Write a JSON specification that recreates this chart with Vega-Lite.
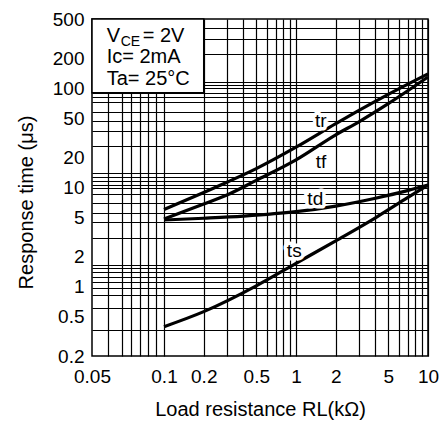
{
  "$schema": "https://vega.github.io/schema/vega-lite/v6.json",
  "width": 336,
  "height": 337,
  "autosize": {"type": "none"},
  "padding": {"left": 92, "top": 19, "right": 17, "bottom": 69},
  "background": "white",
  "config": {
    "view": {"stroke": "black", "strokeWidth": 1.5},
    "font": "Liberation Sans",
    "text": {"font": "Liberation Sans", "color": "black"},
    "axis": {
      "labelFont": "Liberation Sans",
      "titleFont": "Liberation Sans",
      "labelColor": "black",
      "titleColor": "black",
      "titleFontWeight": "normal",
      "ticks": false,
      "domain": false,
      "gridColor": "black",
      "gridOpacity": 1,
      "gridWidth": 1.2,
      "labelOverlap": false,
      "labelFlush": false
    }
  },
  "datasets": {
    "curves": [
      {"series": "tr", "R": 0.1, "t": 6.0},
      {"series": "tr", "R": 0.2, "t": 8.9},
      {"series": "tr", "R": 0.3, "t": 11.3},
      {"series": "tr", "R": 0.5, "t": 15.5},
      {"series": "tr", "R": 1, "t": 25.5},
      {"series": "tr", "R": 2, "t": 44},
      {"series": "tr", "R": 3, "t": 60},
      {"series": "tr", "R": 5, "t": 87},
      {"series": "tr", "R": 10, "t": 140},
      {"series": "tf", "R": 0.1, "t": 4.8},
      {"series": "tf", "R": 0.2, "t": 6.8},
      {"series": "tf", "R": 0.3, "t": 8.4},
      {"series": "tf", "R": 0.5, "t": 11.8},
      {"series": "tf", "R": 1, "t": 19},
      {"series": "tf", "R": 2, "t": 34},
      {"series": "tf", "R": 3, "t": 46},
      {"series": "tf", "R": 5, "t": 70},
      {"series": "tf", "R": 10, "t": 130},
      {"series": "td", "R": 0.1, "t": 4.7},
      {"series": "td", "R": 0.2, "t": 4.9},
      {"series": "td", "R": 0.4, "t": 5.15},
      {"series": "td", "R": 1, "t": 5.7},
      {"series": "td", "R": 2, "t": 6.5},
      {"series": "td", "R": 4, "t": 7.8},
      {"series": "td", "R": 7, "t": 9.3},
      {"series": "td", "R": 10, "t": 10.6},
      {"series": "ts", "R": 0.1, "t": 0.395},
      {"series": "ts", "R": 0.2, "t": 0.56},
      {"series": "ts", "R": 0.5, "t": 1.02},
      {"series": "ts", "R": 1, "t": 1.72},
      {"series": "ts", "R": 2, "t": 2.9},
      {"series": "ts", "R": 4, "t": 4.95},
      {"series": "ts", "R": 7, "t": 7.9},
      {"series": "ts", "R": 10, "t": 10.6}
    ],
    "labels": [
      {"label": "tr", "R": 1.54, "t": 40.7},
      {"label": "tf", "R": 1.55, "t": 15.7},
      {"label": "td", "R": 1.40, "t": 6.67},
      {"label": "ts", "R": 0.97, "t": 1.99}
    ]
  },
  "layer": [
    {
      "data": {"name": "curves"},
      "mark": {"type": "line", "opacity": 0},
      "encoding": {
        "x": {
          "field": "R",
          "type": "quantitative",
          "scale": {"type": "log", "domain": [0.05, 0.1, 10], "range": [0, 72, 336], "nice": false, "zero": false},
          "axis": {
            "orient": "bottom",
            "grid": true,
            "labels": false,
            "title": null,
            "values": [0.0586, 0.0667, 0.0727, 0.0792, 0.0861, 0.0929, 0.1, 0.2, 0.3, 0.4, 0.5, 0.6, 0.7, 0.8, 0.9, 1, 2, 3, 4, 5, 6, 7, 8, 9, 10]
          }
        },
        "y": {
          "field": "t",
          "type": "quantitative",
          "scale": {"type": "log", "domain": [0.2, 500], "nice": false, "zero": false},
          "axis": {
            "orient": "left",
            "grid": true,
            "labels": false,
            "title": null,
            "values": [403, 312, 220, 116.7, 108, 100, 90.4, 82.4, 72.3, 58.2, 46.9, 37.4, 26.2, 13.9, 12.9, 11.7, 10.6, 9.78, 8.6, 6.9, 5.5, 4.44, 3.08, 1.66, 1.53, 1.40, 1.26, 1.12, 0.978, 0.826, 0.607, 0.366]
          }
        },
        "detail": {"field": "series"}
      }
    },
    {
      "data": {"values": [{}]},
      "mark": {"type": "rect", "fill": "white", "stroke": "black", "strokeWidth": 1.5},
      "encoding": {
        "x": {"datum": 0.05, "type": "quantitative", "axis": null},
        "x2": {"datum": 0.2},
        "y": {"datum": 90.4, "type": "quantitative", "axis": null},
        "y2": {"datum": 500}
      }
    },
    {
      "data": {"name": "curves"},
      "mark": {"type": "line", "color": "black", "strokeWidth": 3.2, "interpolate": "monotone"},
      "encoding": {
        "x": {
          "field": "R",
          "type": "quantitative",
          "axis": {
            "orient": "bottom",
            "grid": false,
            "values": [0.05, 0.1, 0.2, 0.5, 1, 2, 5, 10],
            "format": "~g",
            "labelFontSize": 19,
            "labelPadding": 11,
            "title": "Load resistance RL(kΩ)",
            "titleFontSize": 20,
            "titlePadding": 13
          }
        },
        "y": {
          "field": "t",
          "type": "quantitative",
          "axis": {
            "orient": "left",
            "grid": false,
            "values": [0.2, 0.5, 1, 2, 5, 10, 20, 50, 100, 200, 500],
            "format": "~g",
            "labelFontSize": 19,
            "labelPadding": 8,
            "title": "Response time (μs)",
            "titleFontSize": 20,
            "titlePadding": 16,
            "titleY": 183
          }
        },
        "detail": {"field": "series"}
      }
    },
    {
      "data": {"name": "labels"},
      "mark": {"type": "text", "fontSize": 19, "align": "center", "baseline": "alphabetic", "fill": "white", "stroke": "white", "strokeWidth": 7, "strokeJoin": "round"},
      "encoding": {
        "x": {"field": "R", "type": "quantitative", "axis": null},
        "y": {"field": "t", "type": "quantitative", "axis": null},
        "text": {"field": "label"}
      }
    },
    {
      "data": {"name": "labels"},
      "mark": {"type": "text", "fontSize": 19, "align": "center", "baseline": "alphabetic", "color": "black"},
      "encoding": {
        "x": {"field": "R", "type": "quantitative", "axis": null},
        "y": {"field": "t", "type": "quantitative", "axis": null},
        "text": {"field": "label"}
      }
    },
    {
      "data": {"values": [{}]},
      "mark": {"type": "text", "fontSize": 20, "align": "left", "baseline": "alphabetic", "color": "black", "text": "V"},
      "encoding": {
        "x": {"datum": 0.0576, "type": "quantitative", "axis": null},
        "y": {"datum": 295, "type": "quantitative", "axis": null}
      }
    },
    {
      "data": {"values": [{}]},
      "mark": {"type": "text", "fontSize": 14, "align": "left", "baseline": "alphabetic", "color": "black", "text": "CE", "dx": 14, "dy": 4},
      "encoding": {
        "x": {"datum": 0.0576, "type": "quantitative", "axis": null},
        "y": {"datum": 295, "type": "quantitative", "axis": null}
      }
    },
    {
      "data": {"values": [{}]},
      "mark": {"type": "text", "fontSize": 20, "align": "left", "baseline": "alphabetic", "color": "black", "text": "= 2V", "dx": 36},
      "encoding": {
        "x": {"datum": 0.0576, "type": "quantitative", "axis": null},
        "y": {"datum": 295, "type": "quantitative", "axis": null}
      }
    },
    {
      "data": {"values": [{}]},
      "mark": {"type": "text", "fontSize": 20, "align": "left", "baseline": "alphabetic", "color": "black", "text": "Ic= 2mA"},
      "encoding": {
        "x": {"datum": 0.0576, "type": "quantitative", "axis": null},
        "y": {"datum": 179, "type": "quantitative", "axis": null}
      }
    },
    {
      "data": {"values": [{}]},
      "mark": {"type": "text", "fontSize": 20, "align": "left", "baseline": "alphabetic", "color": "black", "text": "Ta= 25°C"},
      "encoding": {
        "x": {"datum": 0.0576, "type": "quantitative", "axis": null},
        "y": {"datum": 108, "type": "quantitative", "axis": null}
      }
    }
  ],
  "resolve": {"axis": {"x": "independent", "y": "independent"}}
}
